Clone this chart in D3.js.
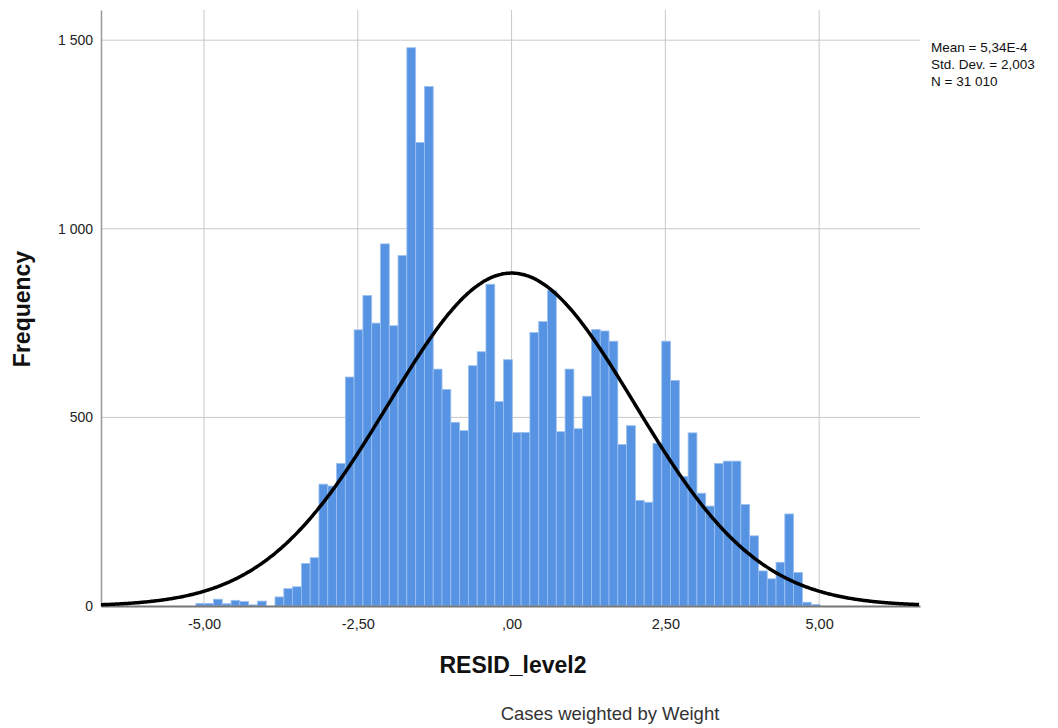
<!DOCTYPE html>
<html lang="en">
<head>
<meta charset="UTF-8">
<title>RESID_level2 histogram</title>
<script src="https://d3js.org/d3.v7.min.js"></script>
<style>
  * { margin: 0; padding: 0; box-sizing: border-box; }
  body { background: #fff; font-family: Arial, "Liberation Sans", sans-serif; }
</style>
</head>
<body>
<div id="chart"></div>
<script>
// histogram bins
const binStart = -5.132;
const binWidth = 0.1429;
const counts = [
  7, 7, 18, 6, 15, 12, 3, 13, 0, 24,
  46, 51, 113, 128, 323, 318, 378, 607, 732, 823,
  750, 960, 743, 929, 1480, 1229, 1377, 628, 574, 487,
  465, 637, 674, 853, 542, 653, 460, 460, 725, 754,
  836, 462, 628, 470, 556, 733, 729, 702, 428, 478,
  280, 275, 431, 702, 598, 343, 459, 299, 265, 378,
  384, 384, 269, 186, 93, 72, 116, 244, 89, 10, 4
];
const xTicks = [-5, -2.5, 0, 2.5, 5];
const xTickLabels = ["-5,00", "-2,50", ",00", "2,50", "5,00"];
const yTicks = [0, 500, 1000, 1500];
const yTickLabels = ["0", "500", "1 000", "1 500"];
const stats = { mean: 5.34e-4, sd: 2.003, n: 31010 };
const statLines = ["Mean = 5,34E-4", "Std. Dev. = 2,003", "N = 31 010"];

const W = 1058, H = 728;
const plot = { left: 101, right: 920, top: 10, bottom: 606 };

const svg = d3.select("#chart").append("svg")
  .attr("width", W).attr("height", H)
  .style("font-family", "Arial, 'Liberation Sans', sans-serif");

const x = d3.scaleLinear().domain([-6.675, 6.64]).range([plot.left, plot.right]);
const y = d3.scaleLinear().domain([0, 1580]).range([plot.bottom, plot.top]);

// grid
svg.append("g")
  .selectAll("line")
  .data(xTicks)
  .join("line")
  .attr("x1", d => x(d)).attr("x2", d => x(d))
  .attr("y1", plot.top).attr("y2", plot.bottom)
  .attr("stroke", "#c8c8c8").attr("stroke-width", 1);

svg.append("g")
  .selectAll("line")
  .data(yTicks.filter(d => d > 0))
  .join("line")
  .attr("x1", plot.left).attr("x2", plot.right)
  .attr("y1", d => y(d)).attr("y2", d => y(d))
  .attr("stroke", "#c8c8c8").attr("stroke-width", 1);

// bars
const bins = counts.map((c, i) => ({ x0: binStart + i * binWidth, x1: binStart + (i + 1) * binWidth, c }));
svg.append("g")
  .selectAll("rect")
  .data(bins.filter(d => d.c > 0))
  .join("rect")
  .attr("x", d => x(d.x0))
  .attr("width", d => x(d.x1) - x(d.x0))
  .attr("y", d => y(d.c))
  .attr("height", d => y(0) - y(d.c))
  .attr("fill", "#5694e3")
  .attr("stroke", "#9cc0f0")
  .attr("stroke-width", 0.8);

// axes
const xAxis = svg.append("g")
  .attr("transform", `translate(0,${plot.bottom})`)
  .call(d3.axisBottom(x).tickValues(xTicks).tickSize(0).tickPadding(13)
    .tickFormat((d, i) => xTickLabels[i]));
xAxis.select(".domain").attr("stroke", "#777").attr("stroke-width", 2);
xAxis.selectAll("text").style("font-size", "14.5px").attr("fill", "#222");

const yAxis = svg.append("g")
  .attr("transform", `translate(${plot.left},0)`)
  .call(d3.axisLeft(y).tickValues(yTicks).tickSize(0).tickPadding(8)
    .tickFormat((d, i) => yTickLabels[i]));
yAxis.select(".domain").attr("stroke", "#999").attr("stroke-width", 1.5);
yAxis.selectAll("text").style("font-size", "14px").attr("fill", "#222");

// normal curve
const pdf = v => Math.exp(-0.5 * ((v - stats.mean) / stats.sd) ** 2) / (stats.sd * Math.sqrt(2 * Math.PI));
const xs = d3.range(x.domain()[0], x.domain()[1] + 0.001, 0.02);
const line = d3.line()
  .x(v => x(v))
  .y(v => y(stats.n * binWidth * pdf(v)))
  .curve(d3.curveBasis);
svg.append("path")
  .datum(xs)
  .attr("d", line)
  .attr("fill", "none")
  .attr("stroke", "#000")
  .attr("stroke-width", 3.5);

// stats box
svg.append("g")
  .selectAll("text")
  .data(statLines)
  .join("text")
  .attr("x", 931)
  .attr("y", (d, i) => 52 + i * 17)
  .style("font-size", "13.5px")
  .attr("fill", "#111")
  .text(d => d);

// titles
svg.append("text")
  .attr("x", 513).attr("y", 673)
  .attr("text-anchor", "middle")
  .style("font-size", "23px").style("font-weight", "bold")
  .attr("fill", "#111")
  .text("RESID_level2");

svg.append("text")
  .attr("transform", `translate(30,${309}) rotate(-90)`)
  .attr("text-anchor", "middle")
  .style("font-size", "23px").style("font-weight", "bold")
  .attr("fill", "#111")
  .text("Frequency");

svg.append("text")
  .attr("x", 610).attr("y", 720)
  .attr("text-anchor", "middle")
  .style("font-size", "18.5px")
  .attr("fill", "#333")
  .text("Cases weighted by Weight");
</script>
</body>
</html>
